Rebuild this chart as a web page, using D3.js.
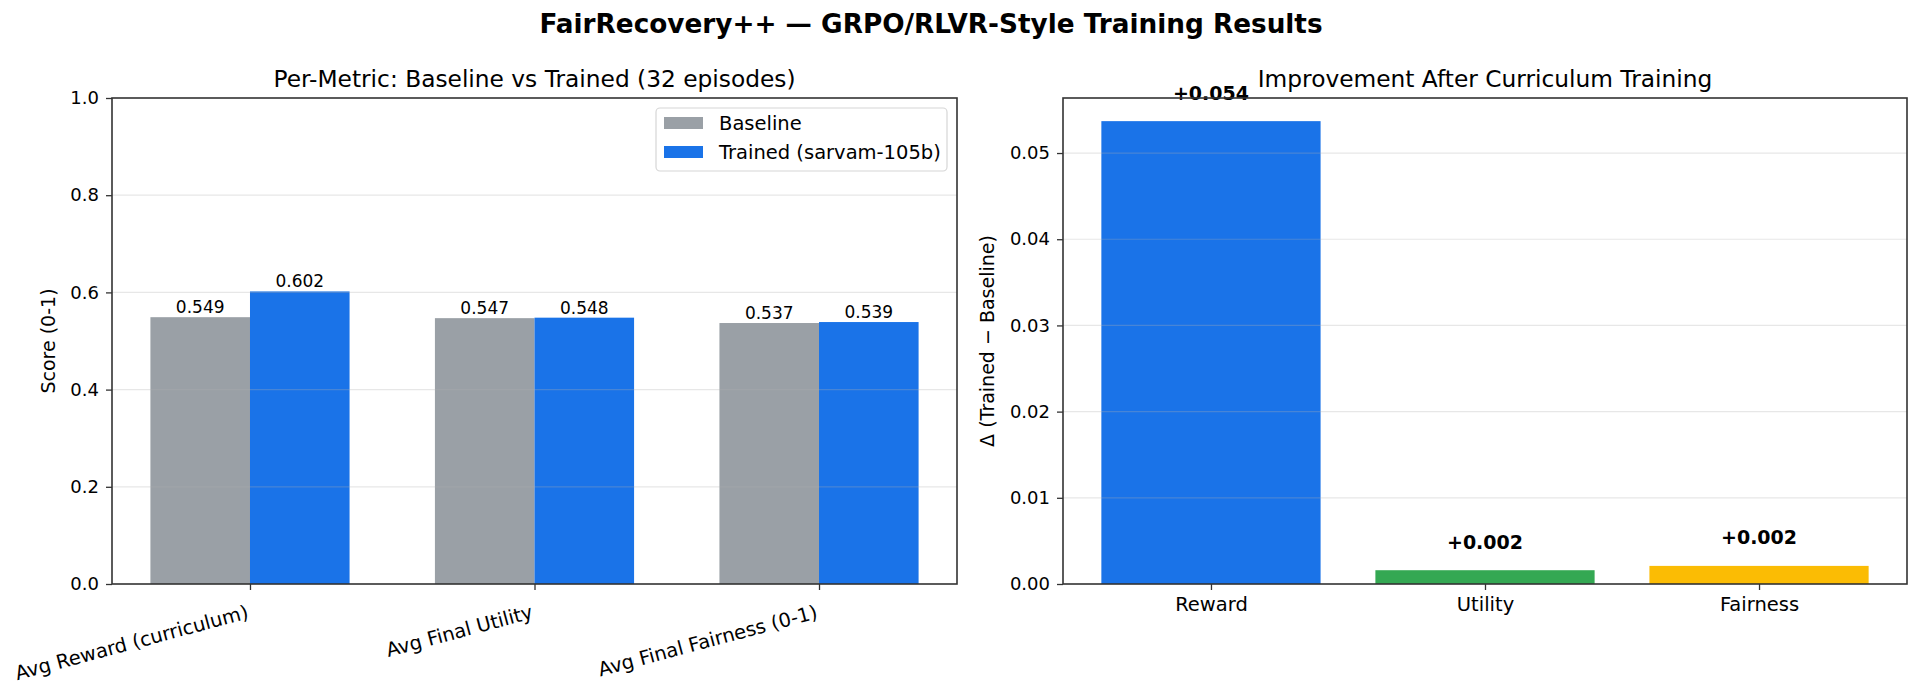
<!DOCTYPE html>
<html>
<head>
<meta charset="UTF-8">
<script src="https://cdn.jsdelivr.net/npm/d3@7"></script>
<style>
  body { margin: 0; background: #fff; }
  text { font-family: "DejaVu Sans", sans-serif; fill: #000; }
  .axis path, .axis line { stroke: #333; }
  .axis text { font-size: 18px; }
  .axis.x text { font-size: 19.5px; }
</style>
</head>
<body>
<div id="chart"></div>
<script>
// data
var metrics = ["Avg Reward (curriculum)", "Avg Final Utility", "Avg Final Fairness (0-1)"];
var baseline = [0.549, 0.547, 0.537];
var trained = [0.602, 0.548, 0.539];
var deltaNames = ["Reward", "Utility", "Fairness"];
var deltas = [0.0537, 0.0016, 0.0021];
var leftTicks = [0, 0.2, 0.4, 0.6, 0.8, 1.0];
var rightTicks = [0, 0.01, 0.02, 0.03, 0.04, 0.05];

var colors = { base: "#9aa0a6", trained: "#1a73e8" };
var deltaColors = ["#1a73e8", "#34a853", "#fbbc04"];

var width = 1921, height = 692;
var svg = d3.select("#chart").append("svg")
    .attr("width", width)
    .attr("height", height);

// figure title
svg.append("text")
    .attr("x", 931).attr("y", 33)
    .attr("text-anchor", "middle")
    .style("font-size", "26.3px").style("font-weight", "bold")
    .text("FairRecovery++ \u2014 GRPO/RLVR-Style Training Results");

function frame(g, x0, x1, y0, y1) {
    g.append("rect")
        .attr("x", x0).attr("y", y0)
        .attr("width", x1 - x0).attr("height", y1 - y0)
        .attr("fill", "none").attr("stroke", "#333").attr("stroke-width", 1.6);
}

function grid(g, y, ticks, x0, x1) {
    g.selectAll(".grid").data(ticks).enter().append("line")
        .attr("x1", x0).attr("x2", x1)
        .attr("y1", function (d) { return y(d); })
        .attr("y2", function (d) { return y(d); })
        .attr("stroke", "#b0b0b0").attr("stroke-opacity", 0.3).attr("stroke-width", 1.2);
}

// ---------- left panel ----------
var L = { left: 112, right: 957, top: 98, bottom: 584 };
var bw = 0.35;
var xL = d3.scaleLinear().domain([-0.485, 2.485]).range([L.left, L.right]);
var yL = d3.scaleLinear().domain([0, 1]).range([L.bottom, L.top]);
var gL = svg.append("g");

gL.selectAll(".b").data(baseline).enter().append("rect")
    .attr("x", function (d, i) { return xL(i - bw); })
    .attr("width", xL(bw) - xL(0))
    .attr("y", function (d) { return yL(d); })
    .attr("height", function (d) { return yL(0) - yL(d); })
    .attr("fill", colors.base);

gL.selectAll(".t").data(trained).enter().append("rect")
    .attr("x", function (d, i) { return xL(i); })
    .attr("width", xL(bw) - xL(0))
    .attr("y", function (d) { return yL(d); })
    .attr("height", function (d) { return yL(0) - yL(d); })
    .attr("fill", colors.trained);

grid(gL, yL, leftTicks.slice(1, 5), L.left, L.right);

// value labels
[baseline, trained].forEach(function (arr, k) {
    gL.selectAll(".lab" + k).data(arr).enter().append("text")
        .attr("x", function (d, i) { return xL(i + (k === 0 ? -bw / 2 : bw / 2)); })
        .attr("y", function (d) { return yL(d) - 4; })
        .attr("text-anchor", "middle")
        .style("font-size", "17px")
        .text(function (d) { return d.toFixed(3); });
});

var axL = gL.append("g").attr("class", "axis x")
    .attr("transform", "translate(0," + L.bottom + ")")
    .call(d3.axisBottom(xL).tickValues([0, 1, 2]).tickSize(6).tickPadding(6)
        .tickFormat(function (d) { return metrics[d]; }));
axL.select(".domain").remove();
axL.selectAll("line").attr("stroke-width", 1.3);
axL.selectAll("text")
    .attr("text-anchor", "end")
    .attr("y", 0).attr("dy", 0)
    .attr("transform", "translate(-1,34) rotate(-15)");

var ayL = gL.append("g").attr("class", "axis")
    .attr("transform", "translate(" + L.left + ",0)")
    .call(d3.axisLeft(yL).tickValues(leftTicks).tickSize(6).tickPadding(7).tickFormat(d3.format(".1f")));
ayL.select(".domain").remove();
ayL.selectAll("line").attr("stroke-width", 1.3);

frame(gL, L.left, L.right, L.top, L.bottom);

gL.append("text")
    .attr("transform", "translate(48," + (L.top + L.bottom) / 2 + ") rotate(-90)")
    .attr("text-anchor", "middle").attr("dy", "0.35em")
    .style("font-size", "19px")
    .text("Score (0-1)");

gL.append("text")
    .attr("x", (L.left + L.right) / 2).attr("y", 87)
    .attr("text-anchor", "middle")
    .style("font-size", "23.3px")
    .text("Per-Metric: Baseline vs Trained (32 episodes)");

// legend
var leg = gL.append("g");
leg.append("rect")
    .attr("x", 656).attr("y", 108).attr("width", 291).attr("height", 63)
    .attr("rx", 4).attr("fill", "#fff").attr("fill-opacity", 0.8)
    .attr("stroke", "#d6d6d6").attr("stroke-width", 1.2);
[["Baseline", colors.base], ["Trained (sarvam-105b)", colors.trained]].forEach(function (e, i) {
    leg.append("rect")
        .attr("x", 664).attr("y", 117 + i * 29).attr("width", 39).attr("height", 12)
        .attr("fill", e[1]);
    leg.append("text")
        .attr("x", 719).attr("y", 130 + i * 29)
        .style("font-size", "19.5px")
        .text(e[0]);
});

// ---------- right panel ----------
var R = { left: 1063, right: 1907, top: 98, bottom: 584 };
var xR = d3.scaleLinear().domain([-0.54, 2.54]).range([R.left, R.right]);
var yR = d3.scaleLinear().domain([0, d3.max(deltas) * 1.05]).range([R.bottom, R.top]);
var gR = svg.append("g");

gR.selectAll(".d").data(deltas).enter().append("rect")
    .attr("x", function (d, i) { return xR(i - 0.4); })
    .attr("width", xR(0.8) - xR(0))
    .attr("y", function (d) { return yR(d); })
    .attr("height", function (d) { return yR(0) - yR(d); })
    .attr("fill", function (d, i) { return deltaColors[i]; });

grid(gR, yR, rightTicks.slice(1), R.left, R.right);

gR.selectAll(".dl").data(deltas).enter().append("text")
    .attr("x", function (d, i) { return xR(i); })
    .attr("y", function (d) { return yR(d + 0.0025); })
    .attr("text-anchor", "middle")
    .style("font-size", "19px").style("font-weight", "bold")
    .text(function (d) { return "+" + d.toFixed(3); });

var axR = gR.append("g").attr("class", "axis x")
    .attr("transform", "translate(0," + R.bottom + ")")
    .call(d3.axisBottom(xR).tickValues([0, 1, 2]).tickSize(6).tickPadding(7)
        .tickFormat(function (d) { return deltaNames[d]; }));
axR.select(".domain").remove();
axR.selectAll("line").attr("stroke-width", 1.3);

var ayR = gR.append("g").attr("class", "axis")
    .attr("transform", "translate(" + R.left + ",0)")
    .call(d3.axisLeft(yR).tickValues(rightTicks).tickSize(6).tickPadding(7).tickFormat(d3.format(".2f")));
ayR.select(".domain").remove();
ayR.selectAll("line").attr("stroke-width", 1.3);

frame(gR, R.left, R.right, R.top, R.bottom);

gR.append("text")
    .attr("transform", "translate(987," + (R.top + R.bottom) / 2 + ") rotate(-90)")
    .attr("text-anchor", "middle").attr("dy", "0.35em")
    .style("font-size", "19px")
    .text("\u0394 (Trained \u2212 Baseline)");

gR.append("text")
    .attr("x", (R.left + R.right) / 2).attr("y", 87)
    .attr("text-anchor", "middle")
    .style("font-size", "23.3px")
    .text("Improvement After Curriculum Training");
</script>
</body>
</html>
